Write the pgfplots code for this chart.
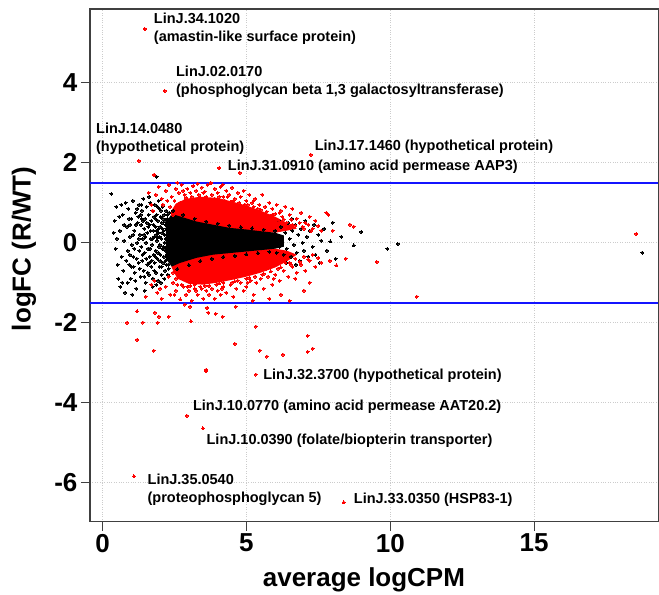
\documentclass[border=0pt]{standalone}
\usepackage{fontspec}
\setmainfont{Liberation Sans}
\usepackage{pgfplots}
\pgfplotsset{compat=1.18}
\definecolor{dered}{RGB}{255,0,0}
\definecolor{cutblue}{RGB}{20,20,255}
\begin{document}
\begin{tikzpicture}
\begin{axis}[
    scale only axis,
    width=569pt, height=513pt,
    xmin=-0.44, xmax=19.32, ymin=-6.98, ymax=5.85,
    axis line style={line width=1.2pt, black!75},
    xtick={0,5,10,15}, ytick={-6,-4,-2,0,2,4},
    xticklabels={0,5,10,15}, yticklabels={-6,-4,-2,0,2,4},
    tick align=outside, major tick length=9pt,
    xtick pos=bottom, ytick pos=left,
    tick style={line width=1.2pt, black!75},
    ticklabel style={font=\fontsize{26}{26}\selectfont\bfseries},
    grid=major,
    major grid style={dotted, gray!40, line width=1pt},
    xlabel={average logCPM},
    ylabel={logFC (R/WT)},
    label style={font=\fontsize{26}{28}\selectfont\bfseries},
    xlabel style={at={(axis description cs:0.482,-0.113)}, anchor=center},
    ylabel style={at={(axis description cs:-0.116,0.532)}, anchor=center},
]
% dense red mass above and below the core
\addplot[fill=dered, draw=none] coordinates {
(2.35,0.75)(2.55,0.98)(2.9,1.1)(3.4,1.15)(4.0,1.12)(4.5,1.03)(5.0,0.93)(5.5,0.8)(6.0,0.65)(6.4,0.5)(6.75,0.35)
(6.4,0.3)(6.0,0.25)(5.58,0.25)(5.0,0.3)(4.42,0.34)(3.84,0.42)(3.26,0.5)(2.68,0.62)(2.4,0.68)};
\addplot[fill=dered, draw=none] coordinates {
(2.4,-0.62)(2.6,-0.9)(3.0,-1.03)(3.5,-1.05)(4.0,-1.0)(4.5,-0.93)(5.0,-0.85)(5.5,-0.75)(6.0,-0.62)(6.4,-0.47)(6.75,-0.3)
(6.4,-0.2)(6.0,-0.15)(5.58,-0.15)(5.0,-0.19)(4.42,-0.23)(3.84,-0.27)(3.26,-0.35)(2.68,-0.48)(2.4,-0.55)};
% dense black core
\addplot[fill=black, draw=none] coordinates {
(2.2,0.5)(2.4,0.72)(2.68,0.66)(3.26,0.53)(3.84,0.45)(4.42,0.37)(5.0,0.33)(5.58,0.28)(6.0,0.25)(6.3,0.18)
(6.3,-0.1)(6.0,-0.15)(5.58,-0.18)(5.0,-0.22)(4.42,-0.26)(3.84,-0.3)(3.26,-0.38)(2.68,-0.51)(2.4,-0.6)(2.2,-0.4)};
% not significant genes
\addplot[black, only marks, mark=*, mark size=1.5pt, mark options={draw=black, fill=black, line width=0pt}] coordinates {
(0.31,1.22)(0.42,0.55)(0.38,0.25)(0.45,-0.15)(0.52,-0.55)(0.48,0.9)(0.6,0.3)(0.55,-0.9)(0.62,-1.1)(0.7,0.7)
(0.66,-0.35)(0.75,0.05)(0.72,-0.7)(0.8,1.0)(0.78,-1.25)(0.58,0.65)(0.68,-1.0)
(0.85,0.4)(0.88,-0.2)(0.9,0.85)(0.93,-0.55)(0.95,0.15)(0.98,-0.9)(1.0,0.6)(1.02,-0.05)(1.05,1.05)(1.07,-0.35)
(1.1,0.3)(1.12,-0.75)(1.15,0.75)(1.17,-1.15)(1.2,0.0)(1.22,0.5)(1.25,-0.5)(1.27,0.95)(1.28,-0.2)(1.3,0.2)
(0.87,-1.0)(1.03,-1.3)(1.14,-0.95)(1.24,0.65)(0.96,0.45)
(1.32,-0.85)(1.34,0.45)(1.35,-0.1)(1.37,0.8)(1.38,-0.45)(1.4,0.1)(1.42,1.1)(1.43,-0.7)(1.45,0.35)(1.46,-0.25)
(1.48,0.6)(1.5,-1.0)(1.51,0.0)(1.53,0.9)(1.55,-0.55)(1.56,0.25)(1.58,-0.15)(1.6,0.7)(1.61,-0.8)(1.63,0.45)
(1.64,-0.35)(1.66,1.0)(1.68,0.1)(1.69,-0.6)(1.7,0.55)(1.72,-0.05)(1.73,0.8)(1.75,-0.9)(1.76,0.3)(1.78,-0.3)
(1.79,0.65)(1.36,0.6)(1.47,-1.2)(1.62,1.15)(1.74,-1.1)(1.57,-0.75)(1.44,0.2)
(1.8,0.15)(1.81,-0.5)(1.82,0.95)(1.84,0.4)(1.85,-0.2)(1.86,-0.75)(1.88,0.7)(1.89,0.05)(1.9,-0.4)(1.92,0.55)
(1.93,-0.95)(1.94,0.25)(1.96,-0.1)(1.97,0.85)(1.98,-0.6)(2.0,0.4)(2.01,-0.3)(2.02,0.65)(2.04,0.1)(2.05,-0.8)
(2.06,0.5)(2.08,-0.15)(2.09,0.9)(2.1,-0.5)(2.12,0.3)(2.13,-0.35)(2.14,0.7)(2.16,0.0)(2.17,-0.7)(2.18,0.45)
(2.2,-0.2)(2.21,0.8)(2.22,-0.55)(2.24,0.2)(2.25,0.6)(2.26,-0.4)(2.28,0.05)(2.3,-0.65)(2.31,0.75)(2.33,0.35)
(2.34,-0.25)(2.36,0.55)(2.37,-0.45)(2.39,0.15)(2.4,-0.05)(1.87,-1.05)(2.03,-1.0)(2.15,-0.9)(1.95,1.05)(2.27,-0.8)
(1.88,0.3)(1.99,-0.05)(2.07,0.25)(2.11,-0.1)(2.19,0.1)(1.91,0.12)(1.83,-0.35)(2.23,-0.3)(2.35,0.05)(2.29,0.4)
(0.5,0.1)(0.65,0.95)(0.82,-0.45)(0.92,0.6)(1.0,-0.6)(1.06,0.2)(1.1,-0.15)(1.16,0.45)(1.19,-0.4)(1.26,0.1)
(1.29,-0.65)(1.33,0.7)(1.39,-0.3)(1.41,0.55)(1.49,0.15)(1.52,-0.4)(1.54,0.5)(1.59,0.4)(1.65,-0.15)(1.67,0.3)
(1.71,-0.45)(1.74,0.1)(1.77,0.45)(1.8,-0.7)(1.83,0.6)(1.86,0.2)(1.9,0.9)(1.93,-0.25)(1.95,0.35)(1.98,0.15)
(2.0,-0.45)(2.03,0.8)(2.05,-0.6)(2.08,0.35)(2.1,0.6)(2.13,-0.15)(2.15,0.2)(2.17,0.55)(2.19,-0.45)(2.22,0.35)
(2.24,-0.1)(2.26,0.7)(2.28,-0.55)(2.3,0.25)(2.32,-0.3)(1.62,-0.5)(1.45,-0.85)(1.35,0.95)(1.2,0.85)(1.08,-0.6)
(0.95,-0.3)(0.75,0.45)
(2.45,0.8)(2.6,-0.66)(2.8,0.7)(3.0,-0.56)(3.2,0.6)(3.4,-0.46)(3.6,0.53)(3.8,-0.4)(4.0,0.48)(4.2,-0.36)
(4.4,0.43)(4.6,-0.33)(4.8,0.39)(5.0,-0.29)(5.2,0.36)(5.4,-0.26)(5.6,0.33)(5.8,-0.23)
(6.0,0.3)(6.05,-0.25)(6.1,0.15)(6.15,-0.1)(6.2,0.4)(6.25,0.0)(6.3,-0.3)(6.35,0.25)(6.4,-0.15)(6.45,0.5)
(6.5,0.1)(6.55,-0.35)(6.6,0.3)(6.65,-0.05)(6.7,0.45)(6.75,-0.25)(6.8,0.2)(6.85,-0.45)(6.9,0.35)(6.95,0.0)
(7.0,-0.2)(7.05,0.55)(7.1,0.15)(7.15,-0.35)(7.2,0.3)(7.3,-0.1)(7.35,0.45)(7.4,-0.3)(7.5,0.2)(7.55,-0.5)
(7.6,0.05)(7.7,0.35)(7.8,-0.2)(7.92,0.03)(8.0,0.5)(8.1,-0.4)(8.3,0.15)(8.73,-0.07)(8.99,0.27)(9.9,-0.15)
(10.26,-0.03)(18.76,-0.25)(6.12,0.55)(6.38,-0.5)(6.58,0.6)(6.72,-0.55)(1.88,1.65)
};
% differentially expressed genes
\addplot[dered, only marks, mark=*, mark size=1.5pt, mark options={draw=dered, fill=dered, line width=0pt}] coordinates {
(1.6,1.25)(1.7,0.95)(1.85,1.2)(1.95,1.4)(2.05,1.1)(2.2,1.3)(2.3,1.45)(2.4,1.15)(2.55,1.35)(2.65,1.25)
(2.75,1.45)(2.85,1.2)(2.95,1.35)(3.05,1.25)(3.15,1.42)(3.25,1.3)(3.35,1.2)(3.45,1.38)(3.55,1.28)(3.65,1.45)
(3.76,1.5)(3.8,1.2)(3.9,1.35)(4.0,1.25)(4.1,1.4)(4.2,1.15)(4.3,1.3)(4.4,1.2)(4.5,1.38)(4.6,1.1)
(4.7,1.25)(4.8,1.15)(4.9,1.3)(5.0,1.05)(5.1,1.2)(5.2,1.0)(5.3,1.1)(5.45,0.95)(5.55,1.2)(5.65,0.9)
(5.8,1.0)(5.9,0.85)(6.05,0.95)(6.2,0.8)(6.35,0.9)(6.5,0.7)(6.6,0.85)(6.75,0.6)(6.9,0.75)(7.05,0.5)
(7.2,0.65)(7.4,0.55)(7.78,0.75)(7.85,0.7)(8.6,0.45)(8.73,0.4)(8.0,0.3)(6.95,0.4)(7.3,0.35)(1.79,1.7)
(4.17,1.45)(4.77,1.75)(3.3,1.48)(2.6,1.5)(2.35,0.9)(2.5,1.05)(2.9,1.12)(3.4,1.12)(3.9,1.1)(4.45,1.02)
(4.95,0.95)(5.4,0.85)(5.9,0.7)(6.3,0.58)(6.6,0.45)(1.75,0.8)(2.1,0.95)(2.25,1.05)
(2.45,0.7)(2.55,0.85)(2.7,1.0)(2.75,0.8)(2.85,1.05)(3.0,0.95)(3.1,1.15)(3.2,0.9)(3.3,1.05)(3.45,1.0)
(3.6,1.15)(3.7,0.95)(3.85,1.05)(3.95,0.9)(4.05,1.15)(4.15,0.95)(4.25,1.05)(4.35,0.9)(4.55,1.05)(4.65,0.85)
(4.75,1.0)(4.85,0.82)(5.05,0.95)(5.15,0.8)(5.25,0.9)(5.35,0.72)(5.5,0.82)(5.6,0.65)(5.7,0.78)(5.85,0.6)
(6.0,0.72)(6.1,0.55)(6.25,0.65)(6.4,0.5)(6.55,0.58)(6.7,0.42)(6.85,0.5)(7.0,0.35)(7.15,0.45)(7.25,0.3)
(7.5,0.42)(7.6,0.3)(2.8,1.3)(3.5,1.25)(4.35,1.15)(5.25,1.05)(6.15,0.75)
(1.5,-1.35)(1.7,-1.05)(1.9,-1.25)(2.05,-1.4)(2.2,-1.1)(2.35,-1.3)(2.45,-1.0)(2.55,-1.2)(2.7,-1.42)(2.8,-1.1)
(2.9,-1.3)(3.0,-1.2)(3.1,-1.45)(3.2,-1.15)(3.3,-1.3)(3.4,-1.1)(3.5,-1.4)(3.6,-1.2)(3.7,-1.3)(3.8,-1.15)
(3.9,-1.4)(4.0,-1.2)(4.1,-1.3)(4.2,-1.1)(4.3,-1.25)(4.45,-1.05)(4.55,-1.35)(4.65,-1.15)(4.8,-1.0)(4.9,-1.2)
(5.0,-1.1)(5.15,-0.95)(5.25,-1.3)(5.35,-1.0)(5.5,-0.9)(5.6,-1.15)(5.75,-0.85)(5.9,-1.05)(6.0,-0.8)(6.15,-0.95)
(6.3,-0.7)(6.45,-0.85)(6.6,-0.6)(6.75,-0.75)(6.9,-0.55)(7.05,-0.7)(7.2,-0.45)(7.4,-0.6)(7.6,-0.5)(7.9,-0.45)
(8.13,-0.57)(8.45,-0.4)(9.53,-0.48)(6.5,-1.45)(6.2,-1.3)(5.8,-1.4)(7.2,-1.0)(7.0,-1.2)(2.3,-0.85)(2.6,-1.05)
(3.05,-1.08)(3.55,-1.08)(4.05,-1.02)(4.6,-0.97)(5.1,-0.88)(5.6,-0.78)(6.1,-0.65)(6.5,-0.5)(2.0,-1.15)(1.8,-0.95)
(2.45,-0.75)(2.55,-0.9)(2.65,-0.8)(2.75,-1.05)(2.85,-0.9)(2.95,-1.1)(3.1,-0.95)(3.2,-1.05)(3.35,-0.92)(3.45,-1.15)
(3.6,-0.95)(3.7,-1.08)(3.85,-0.9)(3.95,-1.05)(4.1,-0.88)(4.2,-1.0)(4.35,-0.85)(4.5,-1.0)(4.6,-0.8)(4.7,-0.95)
(4.85,-0.78)(5.0,-0.9)(5.2,-0.75)(5.3,-0.85)(5.45,-0.68)(5.55,-0.8)(5.7,-0.65)(5.85,-0.72)(6.0,-0.55)(6.2,-0.62)
(6.35,-0.5)(6.55,-0.55)(6.7,-0.4)(6.85,-0.48)(7.0,-0.35)(7.15,-0.42)(7.3,-0.3)(7.5,-0.38)
(2.5,-1.3)(3.25,-1.2)(4.15,-1.15)(5.05,-1.0)(5.95,-0.9)(6.7,-0.9)
(0.85,-2.0)(1.2,-1.72)(1.4,-2.0)(1.82,-1.75)(1.96,-1.85)(1.92,-2.0)(2.3,-1.85)(1.2,-2.43)(1.78,-2.7)(3.07,-1.97)
(3.63,-1.63)(3.67,-1.75)(3.93,-1.78)(4.17,-1.85)(4.63,-1.6)(4.6,-2.53)(3.6,-3.18)(3.6,-3.22)(5.33,-2.1)(5.47,-2.7)
(5.71,-2.85)(6.27,-2.8)(7.13,-2.33)(7.13,-2.73)(7.3,-2.65)(10.92,-1.35)(3.04,-1.6)(2.86,-1.55)(5.22,-1.45)
(1.79,1.7)(3.76,1.5)(4.17,1.45)(18.55,0.22)
(1.47,5.35)(2.16,3.8)(1.26,2.05)(7.24,2.2)(4.05,1.87)(5.33,-3.3)(2.93,-4.33)(3.49,-4.65)(1.09,-5.85)(8.38,-6.5)
};
% fold change cut-offs
\addplot[cutblue, line width=2pt] coordinates {(-0.44,1.5)(19.32,1.5)};
\addplot[cutblue, line width=2pt] coordinates {(-0.44,-1.5)(19.32,-1.5)};
% gene labels
\begin{scope}[every node/.style={anchor=west, align=left, inner sep=0pt,
    font=\fontsize{14.5}{18}\selectfont\bfseries}]
\node at (axis cs:1.78,5.36) {LinJ.34.1020\\(amastin-like surface protein)};
\node at (axis cs:2.55,4.03) {LinJ.02.0170\\(phosphoglycan beta 1,3 galactosyltransferase)};
\node at (axis cs:-0.23,2.59) {LinJ.14.0480\\(hypothetical protein)};
\node at (axis cs:7.37,2.41) {LinJ.17.1460 (hypothetical protein)};
\node at (axis cs:4.35,1.91) {LinJ.31.0910 (amino acid permease AAP3)};
\node at (axis cs:5.58,-3.34) {LinJ.32.3700 (hypothetical protein)};
\node at (axis cs:3.14,-4.11) {LinJ.10.0770 (amino acid permease AAT20.2)};
\node at (axis cs:3.61,-4.95) {LinJ.10.0390 (folate/biopterin transporter)};
\node at (axis cs:1.56,-6.18) {LinJ.35.0540\\(proteophosphoglycan 5)};
\node at (axis cs:8.73,-6.43) {LinJ.33.0350 (HSP83-1)};
\end{scope}
\coordinate (sw) at (rel axis cs:0,0);
\coordinate (ne) at (rel axis cs:1,1);
\end{axis}
\path ([xshift=-90pt,yshift=-73pt]sw) rectangle ([yshift=9pt]ne);
\end{tikzpicture}
\end{document}
